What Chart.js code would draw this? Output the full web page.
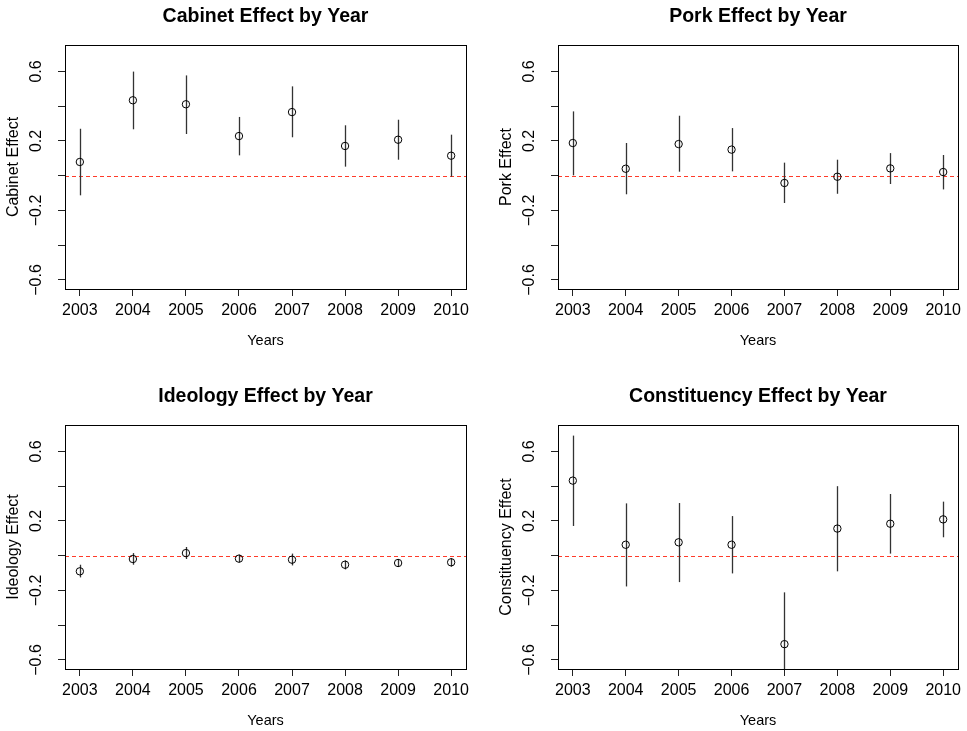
<!DOCTYPE html>
<html>
<head>
<meta charset="utf-8">
<script src="https://cdn.jsdelivr.net/npm/chart.js@4.4.1/dist/chart.umd.min.js"></script>
<style>
  html, body { margin: 0; padding: 0; background: #fff; overflow: hidden; }
  body { width: 967px; height: 731px; position: relative; }
  .panel { position: absolute; }
</style>
</head>
<body>
<div class="panel" style="left:0;top:0"><canvas id="cabinet" width="483" height="365"></canvas></div>
<div class="panel" style="left:493px;top:0"><canvas id="pork" width="474" height="365"></canvas></div>
<div class="panel" style="left:0;top:380px"><canvas id="ideology" width="483" height="366"></canvas></div>
<div class="panel" style="left:493px;top:380px"><canvas id="constituency" width="474" height="366"></canvas></div>
<script>
// Data
const years = [2003, 2004, 2005, 2006, 2007, 2008, 2009, 2010];
const yTicks = [-0.6, -0.4, -0.2, 0, 0.2, 0.4, 0.6];
const yLabels = [-0.6, -0.2, 0.2, 0.6];

const cabinetEst = [0.079, 0.434, 0.411, 0.228, 0.366, 0.171, 0.207, 0.115];
const cabinetLo  = [-0.113, 0.267, 0.240, 0.117, 0.221, 0.052, 0.092, -0.006];
const cabinetHi  = [0.270, 0.599, 0.577, 0.338, 0.514, 0.290, 0.322, 0.236];

const porkEst = [0.188, 0.040, 0.182, 0.150, -0.042, -0.006, 0.042, 0.021];
const porkLo  = [0.002, -0.107, 0.023, 0.025, -0.157, -0.104, -0.048, -0.079];
const porkHi  = [0.370, 0.188, 0.345, 0.274, 0.075, 0.092, 0.130, 0.119];

const ideologyEst = [-0.090, -0.019, 0.015, -0.017, -0.023, -0.052, -0.042, -0.038];
const ideologyLo  = [-0.125, -0.052, -0.019, -0.038, -0.056, -0.079, -0.065, -0.063];
const ideologyHi  = [-0.052, 0.015, 0.050, 0.006, 0.012, -0.027, -0.019, -0.015];

const constituencyEst = [0.432, 0.063, 0.077, 0.063, -0.509, 0.156, 0.184, 0.209];
const constituencyLo  = [0.171, -0.177, -0.152, -0.102, -0.807, -0.090, 0.012, 0.106];
const constituencyHi  = [0.691, 0.301, 0.303, 0.228, -0.211, 0.400, 0.355, 0.311];

const FONT = '"Liberation Sans", Arial, Helvetica, sans-serif';

// R-like extras: error bars, zero line, box, rotated y labels
const rStyle = {
    id: 'rStyle',
    beforeDatasetsDraw(chart) {
        const { ctx, chartArea: a, scales: { x, y } } = chart;
        const ds = chart.data.datasets[0];
        ctx.save();
        ctx.beginPath();
        ctx.rect(a.left, a.top, a.right - a.left, a.bottom - a.top);
        ctx.clip();

        const y0 = Math.round(y.getPixelForValue(0)) + 0.5;
        ctx.strokeStyle = '#ff3b2a';
        ctx.lineWidth = 1.2;
        ctx.setLineDash([4, 3]);
        ctx.beginPath();
        ctx.moveTo(a.left, y0);
        ctx.lineTo(a.right, y0);
        ctx.stroke();
        ctx.setLineDash([]);

        ctx.strokeStyle = '#333';
        ctx.lineWidth = 1.3;
        ds.data.forEach((p, i) => {
            const px = Math.round(x.getPixelForValue(p.x)) + 0.5;
            ctx.beginPath();
            ctx.moveTo(px, y.getPixelForValue(ds.hi[i]));
            ctx.lineTo(px, y.getPixelForValue(ds.lo[i]));
            ctx.stroke();
        });
        ctx.restore();
    },
    afterDraw(chart) {
        const { ctx, chartArea: a, scales: { y } } = chart;
        ctx.save();
        ctx.strokeStyle = '#000';
        ctx.lineWidth = 1;
        ctx.strokeRect(Math.round(a.left) + 0.5, Math.round(a.top) + 0.5,
            Math.round(a.right - a.left), Math.round(a.bottom - a.top));

        ctx.fillStyle = '#000';
        ctx.font = '16px ' + FONT;
        ctx.textAlign = 'center';
        ctx.textBaseline = 'alphabetic';
        yLabels.forEach(v => {
            ctx.save();
            ctx.translate(a.left - 24, y.getPixelForValue(v));
            ctx.rotate(-Math.PI / 2);
            ctx.fillText((v < 0 ? '\u2212' : '') + Math.abs(v).toFixed(1), 0, 0);
            ctx.restore();
        });
        ctx.restore();
    }
};

function makePanel(id, title, yTitle, est, lo, hi, padRight, xHeight) {
    const axisGrid = { drawOnChartArea: false, drawTicks: true, tickLength: 7, color: '#222', lineWidth: 1 };
    return new Chart(document.getElementById(id), {
        type: 'scatter',
        data: {
            datasets: [{
                data: years.map((yr, i) => ({ x: yr, y: est[i] })),
                lo: lo,
                hi: hi,
                pointStyle: 'circle',
                pointRadius: 3.7,
                pointHoverRadius: 3.7,
                borderWidth: 1,
                borderColor: '#000',
                backgroundColor: 'rgba(0,0,0,0)'
            }]
        },
        options: {
            responsive: false,
            animation: false,
            devicePixelRatio: 1,
            layout: { padding: { left: 0, right: padRight, top: 0, bottom: 0 } },
            plugins: {
                legend: { display: false },
                tooltip: { enabled: false },
                title: {
                    display: true, text: title, fullSize: false, color: '#000',
                    font: { family: FONT, size: 19.5, weight: 'bold' },
                    padding: { top: 5, bottom: 16.6 }
                }
            },
            scales: {
                x: {
                    type: 'linear', min: 2002.72, max: 2010.28,
                    afterBuildTicks: s => { s.ticks = years.map(v => ({ value: v })); },
                    afterFit: s => { s.height = xHeight; },
                    grid: axisGrid,
                    border: { display: true, color: '#000', width: 1 },
                    ticks: {
                        color: '#000', font: { family: FONT, size: 16 }, padding: 5,
                        maxRotation: 0, autoSkip: false, callback: v => String(v)
                    },
                    title: {
                        display: true, text: 'Years', color: '#000',
                        font: { family: FONT, size: 14.5 }, padding: { top: 0, bottom: 15 + (xHeight - 76) }
                    }
                },
                y: {
                    type: 'linear', min: -0.652, max: 0.752,
                    afterBuildTicks: s => { s.ticks = yTicks.map(v => ({ value: v })); },
                    afterFit: s => { s.width = 65; },
                    grid: axisGrid,
                    border: { display: true, color: '#000', width: 1 },
                    ticks: { display: false },
                    title: {
                        display: true, text: yTitle, color: '#000',
                        font: { family: FONT, size: 16 }, padding: { top: 4, bottom: 0 }
                    }
                }
            }
        },
        plugins: [rStyle]
    });
}

makePanel('cabinet', 'Cabinet Effect by Year', 'Cabinet Effect', cabinetEst, cabinetLo, cabinetHi, 17, 76);
makePanel('pork', 'Pork Effect by Year', 'Pork Effect', porkEst, porkLo, porkHi, 9, 76);
makePanel('ideology', 'Ideology Effect by Year', 'Ideology Effect', ideologyEst, ideologyLo, ideologyHi, 17, 77);
makePanel('constituency', 'Constituency Effect by Year', 'Constituency Effect', constituencyEst, constituencyLo, constituencyHi, 9, 77);
</script>
</body>
</html>
